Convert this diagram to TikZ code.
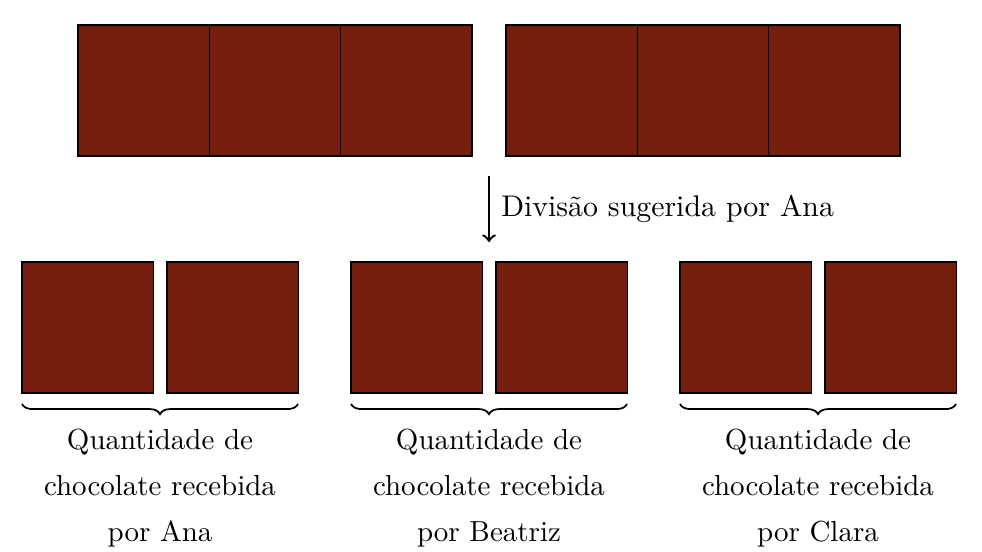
\documentclass[tikz,border=0pt]{standalone}
\usetikzlibrary{decorations.pathreplacing}
\definecolor{choc}{HTML}{761E0D}
\begin{document}
\begin{tikzpicture}[x=0.345pt,y=-0.345pt,
  sq/.style={draw=black,fill=choc,line width=0.4pt},
  brc/.style={decorate,decoration={brace,mirror,amplitude=3.5pt},line width=0.6pt},
  lbl/.style={align=center,font={\linespread{1.33}\selectfont},anchor=north}]
\useasboundingbox (0,0) rectangle (982,552);
% top bars
\foreach \i/\x in {1/78,2/209.33,3/340.67}{
  \draw[sq] (\x,25) rectangle ++(131.33,131) coordinate (t\i);}
\foreach \i/\x in {4/506,5/637.33,6/768.67}{
  \draw[sq] (\x,25) rectangle ++(131.33,131) coordinate (t\i);}
% bottom pieces
\foreach \x in {22,167,351,496,680,825}{
  \draw[sq] (\x,262) rectangle ++(131.5,131);}
% arrow
\coordinate (as) at (489,176);
\coordinate (ae) at (489,242);
\draw[->,line width=0.8pt] (as) -- (ae) node[midway,right=0.5pt,font=\fontsize{10.3}{12}\selectfont] (lab) {Divisão sugerida por Ana};
% braces
\coordinate (b1a) at (22,404); \coordinate (b1b) at (298,404);
\coordinate (b2a) at (351,404); \coordinate (b2b) at (627,404);
\coordinate (b3a) at (680,404); \coordinate (b3b) at (956,404);
\draw[brc] (b1a) -- (b1b) node[midway,below=5pt,lbl] (l1) {Quantidade de\\chocolate recebida\\por Ana};
\draw[brc] (b2a) -- (b2b) node[midway,below=5pt,lbl] (l2) {Quantidade de\\chocolate recebida\\por Beatriz};
\draw[brc] (b3a) -- (b3b) node[midway,below=5pt,lbl] (l3) {Quantidade de\\chocolate recebida\\por Clara};
\end{tikzpicture}
\end{document}
